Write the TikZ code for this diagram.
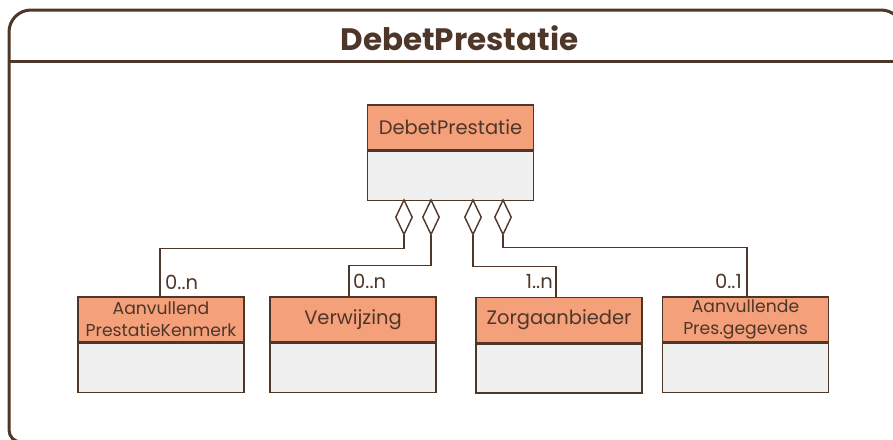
\documentclass[tikz,border=0pt]{standalone}
\usepackage{fontspec}
\setmainfont{Poppins}
\usetikzlibrary{shapes.geometric}
\definecolor{brn}{HTML}{4E3629}
\definecolor{salmon}{HTML}{F4A07A}
\definecolor{bodyg}{HTML}{F0F0F0}
\begin{document}
\begin{tikzpicture}[x=1pt,y=-1pt,
  hdr/.style={draw=brn, fill=salmon, line width=1.5pt, minimum width=166pt, minimum height=45pt, inner sep=0pt, text=brn, align=center, font=\fontsize{19.5}{22}\selectfont},
  hdrtwo/.style={hdr, font=\fontsize{17.2}{22}\selectfont},
  bdy/.style={draw=brn, fill=bodyg, line width=1.5pt, minimum width=166pt, minimum height=49pt, inner sep=0pt, anchor=north},
  diam/.style={draw=brn, fill=white, diamond, minimum width=17pt, minimum height=35pt, inner sep=0pt, line width=1.4pt, anchor=north},
  conn/.style={draw=brn, line width=1.3pt},
  mult/.style={text=brn, font=\fontsize{19.5}{21}\selectfont, inner sep=0pt},
]
\fill[white] (0,0) rectangle (893,439);
\useasboundingbox (0,0) rectangle (893,439);

% frame
\draw[brn, line width=3pt] (9,300) [rounded corners=22pt] -- (9,10) -- (903,10) -- (903,300) [rounded corners=12pt] -- (903,442) -- (9,442) -- cycle;
\draw[brn, line width=3pt] (9,61) -- (903,61);
\node[text=brn, anchor=base, inner sep=0pt, font=\fontsize{31}{34}\selectfont\bfseries] (title) at (459.5,50) {DebetPrestatie};

% main class
\node[hdr] (mh) at (450.5,127.5) {DebetPrestatie};
\node[bdy] (mb) at (mh.south) {};

% child classes
\node[hdrtwo] (c1) at (161,319.5) {Aanvullend\\PrestatieKenmerk};
\node[bdy] (c1b) at (c1.south) {};
\node[hdr] (c2) at (353,319.5) {Verwijzing};
\node[bdy] (c2b) at (c2.south) {};
\node[hdr] (c3) at (559,320) {Zorgaanbieder};
\node[bdy] (c3b) at (c3.south) {};
\node[hdrtwo] (c4) at (745.5,319.5) {Aanvullende\\Pres.gegevens};
\node[bdy] (c4b) at (c4.south) {};

% diamonds
\node[diam] (d1) at (404,199) {};
\node[diam] (d2) at (431,199) {};
\node[diam] (d3) at (473,199) {};
\node[diam] (d4) at (503,199) {};

% connectors
\draw[conn] (d1.south) -- ++(0,13) -| ([xshift=-1pt]c1.north);
\draw[conn] (d2.south) -- ++(0,30) -| ([xshift=-4pt]c2.north);
\draw[conn] (d3.south) -- ++(0,31) -| ([xshift=-3pt]c3.north);
\draw[conn] (d4.south) -- ++(0,12) -| ([xshift=1.5pt]c4.north);

% multiplicities
\node[mult, anchor=base west] (m1) at ([xshift=4pt,yshift=7pt]c1.north) {0..n};
\node[mult, anchor=base west] (m2) at ([xshift=0pt,yshift=8pt]c2.north) {0..n};
\node[mult, anchor=base east] (m3) at ([xshift=-6pt,yshift=8pt]c3.north) {1..n};
\node[mult, anchor=base east] (m4) at ([xshift=-3.5pt,yshift=8pt]c4.north) {0..1};
\end{tikzpicture}
\end{document}
